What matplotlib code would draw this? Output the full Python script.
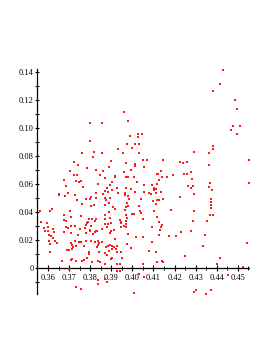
import matplotlib
matplotlib.use("Agg")
import matplotlib.pyplot as plt
from matplotlib.ticker import MultipleLocator, FuncFormatter

plt.rcParams['font.family'] = ['Liberation Serif', 'DejaVu Serif']

# sparse points at the top
top_x = [0.3961, 0.3979, 0.3800, 0.3856, 0.3990, 0.4026, 0.4028, 0.4047, 0.4432, 0.4418,
         0.4382, 0.4486, 0.4495, 0.4478, 0.4510, 0.4468, 0.4495]
top_y = [0.1112, 0.1050, 0.1036, 0.1038, 0.0945, 0.0955, 0.0936, 0.0955, 0.1416, 0.1316,
         0.1264, 0.1202, 0.1136, 0.1012, 0.1016, 0.0984, 0.0959]

upper_left_x = [0.3798, 0.3760, 0.3819, 0.3856, 0.3815, 0.3722, 0.3742, 0.3783, 0.3829, 0.3862,
                0.3704, 0.3723, 0.3736, 0.3848, 0.3677, 0.3733, 0.3745, 0.3758, 0.3871, 0.3835,
                0.3687, 0.3764, 0.3870, 0.3695, 0.3826, 0.3859, 0.3651]
upper_left_y = [0.0905, 0.0824, 0.0829, 0.0821, 0.0793, 0.0757, 0.0736, 0.0714, 0.0698, 0.0693,
                0.0693, 0.0664, 0.0664, 0.0662, 0.0626, 0.0624, 0.0612, 0.0619, 0.0641, 0.0598,
                0.0588, 0.0579, 0.0552, 0.0538, 0.0536, 0.0529, 0.0526]

upper_mid_x = [0.3973, 0.4011, 0.4033, 0.3998, 0.3930, 0.3954, 0.4030, 0.3898, 0.4050, 0.4070,
               0.4145, 0.3971, 0.4012, 0.4011, 0.4056, 0.3888, 0.3959, 0.4122, 0.4115, 0.4137,
               0.3917, 0.3917, 0.3968, 0.3978, 0.4007, 0.4191, 0.4165, 0.4140, 0.4126, 0.4020,
               0.3902, 0.3892, 0.4055, 0.4116, 0.4093, 0.4104, 0.4110, 0.4101, 0.3925, 0.3881,
               0.3969, 0.3992, 0.3906, 0.4080, 0.4113, 0.3886, 0.3930, 0.3965, 0.4012, 0.4055,
               0.4135, 0.3995]
upper_mid_y = [0.0886, 0.0884, 0.0886, 0.0857, 0.0848, 0.0821, 0.0819, 0.0766, 0.0769, 0.0769,
               0.0769, 0.0750, 0.0741, 0.0729, 0.0721, 0.0719, 0.0684, 0.0674, 0.0669, 0.0691,
               0.0659, 0.0650, 0.0648, 0.0648, 0.0650, 0.0666, 0.0652, 0.0648, 0.0629, 0.0614,
               0.0612, 0.0595, 0.0593, 0.0598, 0.0595, 0.0574, 0.0562, 0.0555, 0.0571, 0.0571,
               0.0571, 0.0564, 0.0557, 0.0538, 0.0538, 0.0545, 0.0538, 0.0534, 0.0541, 0.0541,
               0.0541, 0.0698]

right_x = [0.4382, 0.4382, 0.4294, 0.4363, 0.4555, 0.4225, 0.4239, 0.4261, 0.4363, 0.4244,
           0.4258, 0.4276, 0.4285, 0.4370, 0.4554, 0.4263, 0.4287, 0.4279, 0.4363, 0.4378,
           0.4293, 0.4225, 0.4371, 0.4371, 0.4374, 0.4371, 0.4293, 0.4366, 0.4382, 0.4287,
           0.4353, 0.4229, 0.4208, 0.4276, 0.4346, 0.4545, 0.4336, 0.4248, 0.4415, 0.4402,
           0.4525, 0.4453, 0.4303, 0.4292, 0.4374, 0.4348]
right_y = [0.0874, 0.0852, 0.0826, 0.0825, 0.0774, 0.0755, 0.0748, 0.0755, 0.0734, 0.0674,
           0.0675, 0.0684, 0.0636, 0.0609, 0.0609, 0.0588, 0.0588, 0.0574, 0.0579, 0.0557,
           0.0531, 0.0509, 0.0495, 0.0471, 0.0452, 0.0429, 0.0407, 0.0381, 0.0379, 0.0338,
           0.0338, 0.0259, 0.0232, 0.0264, 0.0237, 0.0182, 0.0159, 0.0088, 0.0075, 0.0026,
           0.0009, -0.0049, -0.0159, -0.0169, -0.0157, -0.0184]

mid_left_x = [0.3652, 0.3679, 0.3726, 0.3779, 0.3800, 0.3804, 0.3826, 0.3870, 0.3876, 0.3739,
              0.3762, 0.3805, 0.3816, 0.3870, 0.3562, 0.3611, 0.3704, 0.3676, 0.3756, 0.3793,
              0.3807, 0.3829, 0.3871, 0.3708, 0.3674, 0.3565, 0.3595, 0.3791, 0.3785, 0.3821,
              0.3871, 0.3709, 0.3780, 0.3775, 0.3804, 0.3685, 0.3696, 0.3726, 0.3750, 0.3600,
              0.3582, 0.3625, 0.3800, 0.3800, 0.3829, 0.3857, 0.3630, 0.3676, 0.3709, 0.3780,
              0.3813, 0.3824, 0.3834, 0.3600, 0.3603, 0.3613, 0.3744, 0.3625, 0.3729, 0.3709,
              0.3747, 0.3758, 0.3781, 0.3805, 0.3821, 0.3835, 0.3843, 0.3857, 0.3633, 0.3611,
              0.3643, 0.3712, 0.3835, 0.3771, 0.3618, 0.3687, 0.3584, 0.3605]
mid_left_y = [0.0521, 0.0512, 0.0524, 0.0493, 0.0493, 0.0509, 0.0502, 0.0502, 0.0488, 0.0484,
              0.0455, 0.0443, 0.0450, 0.0450, 0.0409, 0.0405, 0.0405, 0.0379, 0.0371, 0.0352,
              0.0348, 0.0352, 0.0350, 0.0362, 0.0345, 0.0331, 0.0321, 0.0331, 0.0321, 0.0338,
              0.0316, 0.0300, 0.0305, 0.0284, 0.0298, 0.0291, 0.0288, 0.0300, 0.0279, 0.0293,
              0.0288, 0.0281, 0.0271, 0.0262, 0.0266, 0.0281, 0.0259, 0.0255, 0.0248, 0.0248,
              0.0241, 0.0257, 0.0264, 0.0264, 0.0234, 0.0231, 0.0236, 0.0214, 0.0195, 0.0181,
              0.0186, 0.0184, 0.0195, 0.0195, 0.0186, 0.0195, 0.0179, 0.0186, 0.0193, 0.0169,
              0.0179, 0.0162, 0.0162, 0.0155, 0.0421, 0.0334, 0.0262, 0.0195]

mid_center_x = [0.3892, 0.3965, 0.3978, 0.3985, 0.4041, 0.4087, 0.4118, 0.4099, 0.4127, 0.4146,
                0.3890, 0.3909, 0.3917, 0.3976, 0.3978, 0.3969, 0.3965, 0.4030, 0.4110, 0.4183,
                0.4036, 0.4039, 0.3998, 0.4006, 0.4104, 0.3888, 0.3968, 0.4116, 0.3973, 0.3892,
                0.3942, 0.3944, 0.3946, 0.3969, 0.3969, 0.4050, 0.4126, 0.3897, 0.3883, 0.3879,
                0.3961, 0.3968, 0.3944, 0.4134, 0.4139, 0.4091, 0.3911, 0.3897, 0.3894, 0.3979,
                0.4130, 0.4126, 0.4172, 0.4018, 0.4051, 0.3919, 0.3892, 0.3886, 0.3905, 0.3927,
                0.3976, 0.4093, 0.3870]
mid_center_y = [0.0502, 0.0524, 0.0512, 0.0493, 0.0495, 0.0526, 0.0488, 0.0479, 0.0488, 0.0493,
                0.0464, 0.0436, 0.0424, 0.0464, 0.0445, 0.0434, 0.0416, 0.0441, 0.0457, 0.0416,
                0.0409, 0.0391, 0.0386, 0.0386, 0.0405, 0.0398, 0.0376, 0.0364, 0.0355, 0.0355,
                0.0341, 0.0329, 0.0319, 0.0338, 0.0316, 0.0348, 0.0329, 0.0321, 0.0312, 0.0291,
                0.0302, 0.0291, 0.0293, 0.0293, 0.0305, 0.0295, 0.0274, 0.0266, 0.0250, 0.0245,
                0.0269, 0.0238, 0.0229, 0.0221, 0.0219, 0.0205, 0.0164, 0.0155, 0.0155, 0.0157,
                0.0171, 0.0188, 0.0379]

low_left_x = [0.3608, 0.3665, 0.3689, 0.3701, 0.3712, 0.3717, 0.3731, 0.3712, 0.3710, 0.3734,
              0.3761, 0.3769, 0.3786, 0.3793, 0.3796, 0.3834, 0.3842, 0.3810, 0.3838, 0.3848,
              0.3869, 0.3701, 0.3733, 0.3755, 0.3835, 0.3837, 0.3871]
low_left_y = [0.0116, 0.0052, 0.0129, 0.0131, 0.0138, 0.0152, 0.0155, 0.0066, 0.0057, 0.0048,
              0.0048, 0.0057, 0.0071, 0.0102, 0.0116, 0.0152, 0.0116, 0.0045, 0.0052, 0.0041,
              0.0107, -0.0005, -0.0136, -0.0148, -0.0111, -0.0084, -0.0081]

low_center_x = [0.3873, 0.3905, 0.3914, 0.3922, 0.3889, 0.3881, 0.3902, 0.3898, 0.3928, 0.3944,
                0.3949, 0.3928, 0.3941, 0.3870, 0.3992, 0.4077, 0.4110, 0.4115, 0.4139, 0.4146,
                0.3879, 0.3925, 0.3940, 0.4033, 0.4055, 0.4006, 0.4049]
low_center_y = [0.0150, 0.0136, 0.0150, 0.0134, 0.0119, 0.0095, 0.0074, 0.0062, 0.0112, 0.0112,
                0.0071, 0.0026, 0.0031, 0.0026, 0.0141, 0.0119, 0.0114, 0.0041, 0.0050, 0.0043,
                -0.0100, -0.0024, -0.0024, -0.0043, -0.0066, -0.0175, 0.0026]

xs = top_x + upper_left_x + upper_mid_x + right_x + mid_left_x + mid_center_x + low_left_x + low_center_x
ys = top_y + upper_left_y + upper_mid_y + right_y + mid_left_y + mid_center_y + low_left_y + low_center_y

fig = plt.figure(figsize=(2.73, 3.53), dpi=100)
ax = fig.add_axes([0.1355, 0.167, 0.778, 0.637])

ax.scatter(xs, ys, s=2.2, marker='s', c='#ff1a1a', linewidths=0, clip_on=False, zorder=3)

ax.set_xlim(0.3548, 0.4555)
ax.set_ylim(-0.0186, 0.1421)

ax.spines['top'].set_visible(False)
ax.spines['right'].set_visible(False)
ax.spines['bottom'].set_position(('data', 0))
for s in ('left', 'bottom'):
    ax.spines[s].set_linewidth(0.9)

ax.xaxis.set_major_locator(MultipleLocator(0.01))
ax.xaxis.set_minor_locator(MultipleLocator(0.005))
ax.yaxis.set_major_locator(MultipleLocator(0.02))
ax.yaxis.set_minor_locator(MultipleLocator(0.01))
ax.xaxis.set_major_formatter(FuncFormatter(lambda v, p: f"{v:.2f}"))
ax.yaxis.set_major_formatter(FuncFormatter(lambda v, p: "0" if abs(v) < 1e-9 else f"{v:.2f}"))

ax.tick_params(axis='x', which='major', direction='inout', length=4.5, width=0.8, pad=2,
               labelsize=6, top=False, labeltop=False)
ax.tick_params(axis='x', which='minor', direction='inout', length=2.5, width=0.7, top=False)
ax.tick_params(axis='y', which='major', direction='inout', length=3.5, width=0.8, pad=0.5,
               labelsize=6, right=False, labelright=False)
ax.tick_params(axis='y', which='minor', direction='inout', length=2.5, width=0.7, right=False)

fig.savefig("out.png", dpi=100)
